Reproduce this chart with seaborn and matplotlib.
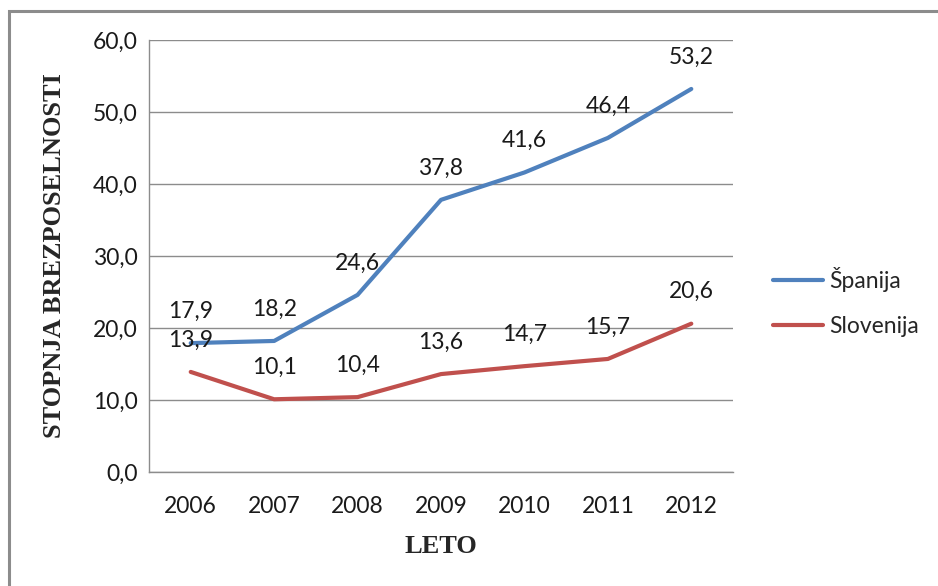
import matplotlib
matplotlib.use("Agg")
import matplotlib.pyplot as plt
import matplotlib.patches as mpatches
import seaborn as sns
import pandas as pd

years = ["2006", "2007", "2008", "2009", "2010", "2011", "2012"]
spanija = [17.9, 18.2, 24.6, 37.8, 41.6, 46.4, 53.2]
slovenija = [13.9, 10.1, 10.4, 13.6, 14.7, 15.7, 20.6]
series_names = ["Španija", "Slovenija"]
colors = ["#4F81BD", "#C0504D"]
y_ticks = [0, 10, 20, 30, 40, 50, 60]

df = pd.DataFrame({
    "leto": list(range(len(years))) * 2,
    "vrednost": spanija + slovenija,
    "drzava": [series_names[0]] * len(years) + [series_names[1]] * len(years),
})

sns.set_theme(style="white")
plt.rcParams["font.family"] = ["Lato", "DejaVu Sans"]

fig = plt.figure(figsize=(9.38, 5.86), dpi=100)
ax = fig.add_axes([149 / 938, 1 - 472 / 586, (733 - 149) / 938, (472 - 40) / 586])

sns.lineplot(data=df, x="leto", y="vrednost", hue="drzava",
             palette=dict(zip(series_names, colors)), linewidth=3.0,
             ax=ax, legend=True, sort=False)

fs = 16.5
for vals in (spanija, slovenija):
    for i, v in enumerate(vals):
        ax.annotate(f"{v:.1f}".replace(".", ","), (i, v), xytext=(0, 23),
                    textcoords="offset points", ha="center", va="center",
                    fontsize=fs, color="#1a1a1a")

ax.set_xlim(-0.5, len(years) - 0.5)
ax.set_ylim(0, 60)
ax.set_xticks(range(len(years)))
ax.set_xticklabels(years)
ax.set_yticks(y_ticks)
ax.set_yticklabels([f"{t:.1f}".replace(".", ",") for t in y_ticks])
ax.tick_params(axis="both", length=0, labelsize=fs, colors="#1a1a1a")
ax.tick_params(axis="y", pad=8)
ax.tick_params(axis="x", pad=17)
ax.yaxis.grid(True, color="#8c8c8c", linewidth=1.0)
ax.xaxis.grid(False)
for s in ("top", "right"):
    ax.spines[s].set_visible(False)
for s in ("left", "bottom"):
    ax.spines[s].set_color("#8c8c8c")
    ax.spines[s].set_linewidth(1.0)

serif = dict(family=["Liberation Serif", "DejaVu Serif"], weight="bold", size=19)
ax.set_xlabel("LETO", fontdict=serif, labelpad=13)
ax.set_ylabel("STOPNJA BREZPOSELNOSTI", fontdict=serif)
ax.yaxis.set_label_coords(-0.142, 0.5)

handles, labels = ax.get_legend_handles_labels()
ax.legend(handles, labels, loc="center left", bbox_to_anchor=(773 / 938, 1 - 302 / 586),
          bbox_transform=fig.transFigure, frameon=False, fontsize=fs,
          handlelength=2.2, handletextpad=0.25, labelspacing=1.05,
          borderpad=0, borderaxespad=0)

fig.patches.append(mpatches.Rectangle((9 / 938, -0.1), 1.2, 1 - 11 / 586 + 0.1,
                                      transform=fig.transFigure, fill=False,
                                      edgecolor="#8c8c8c", linewidth=2.2))

fig.savefig("out.png", dpi=100)
